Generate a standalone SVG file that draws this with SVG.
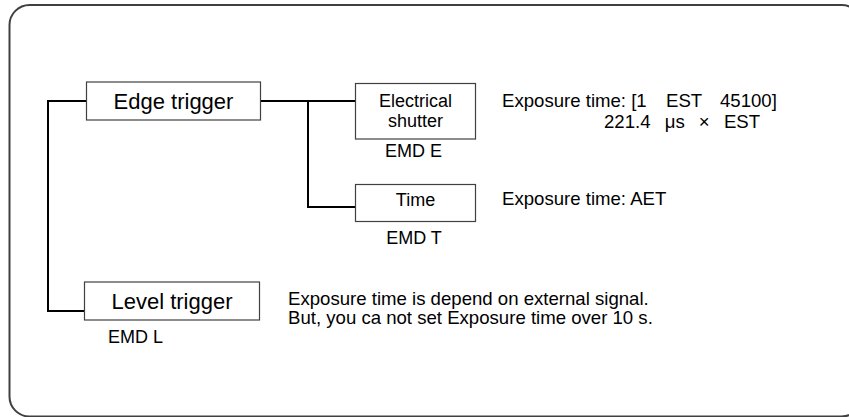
<svg xmlns="http://www.w3.org/2000/svg" width="849" height="417" viewBox="0 0 849 417">
<style>
text{font-family:"Liberation Sans",Arial,sans-serif;fill:#000}
.big{font-size:22px}
.mid{font-size:18px}
.note{font-size:18.6px}
.box{fill:#fff;stroke:#404040;stroke-width:1.2}
.wire{fill:none;stroke:#000;stroke-width:2}
</style>
<rect x="9.5" y="5" width="852" height="411.5" rx="20" ry="20" fill="#fff" stroke="#404040" stroke-width="2"/>
<g id="connectors">
<polyline class="wire" points="86,101 48,101 48,311 84,311"/>
<line class="wire" x1="260" y1="101" x2="355" y2="101"/>
<polyline class="wire" points="308,101 308,207 355,207"/>
</g>
<g id="edge">
<rect class="box" x="86.5" y="82" width="174" height="38"/>
<text class="big" x="173.5" y="109" text-anchor="middle">Edge trigger</text>
</g>
<g id="electrical">
<rect class="box" x="355.5" y="83.5" width="120" height="55.5"/>
<text class="mid" x="415.5" y="107" text-anchor="middle">Electrical</text>
<text class="mid" x="415.5" y="127" text-anchor="middle">shutter</text>
<text class="mid" x="413.5" y="157" text-anchor="middle">EMD E</text>
</g>
<g id="time">
<rect class="box" x="355.5" y="184.5" width="120" height="37"/>
<text class="mid" x="415.5" y="206" text-anchor="middle">Time</text>
<text class="mid" x="414" y="244" text-anchor="middle">EMD T</text>
</g>
<g id="level">
<rect class="box" x="84.5" y="282" width="175" height="38"/>
<text class="big" x="172" y="309" text-anchor="middle">Level trigger</text>
<text class="mid" x="108" y="343">EMD L</text>
</g>
<g id="notes">
<text class="note" y="107"><tspan x="502">Exposure time: [1</tspan><tspan x="666">EST</tspan><tspan x="720">45100]</tspan></text>
<text class="note" x="604" y="128" word-spacing="9">221.4 μs × EST</text>
<text class="note" x="502" y="205">Exposure time: AET</text>
<text class="note" x="288" y="305">Exposure time is depend on external signal.</text>
<text class="note" x="288" y="324">But, you ca not set Exposure time over 10 s.</text>
</g>
</svg>
